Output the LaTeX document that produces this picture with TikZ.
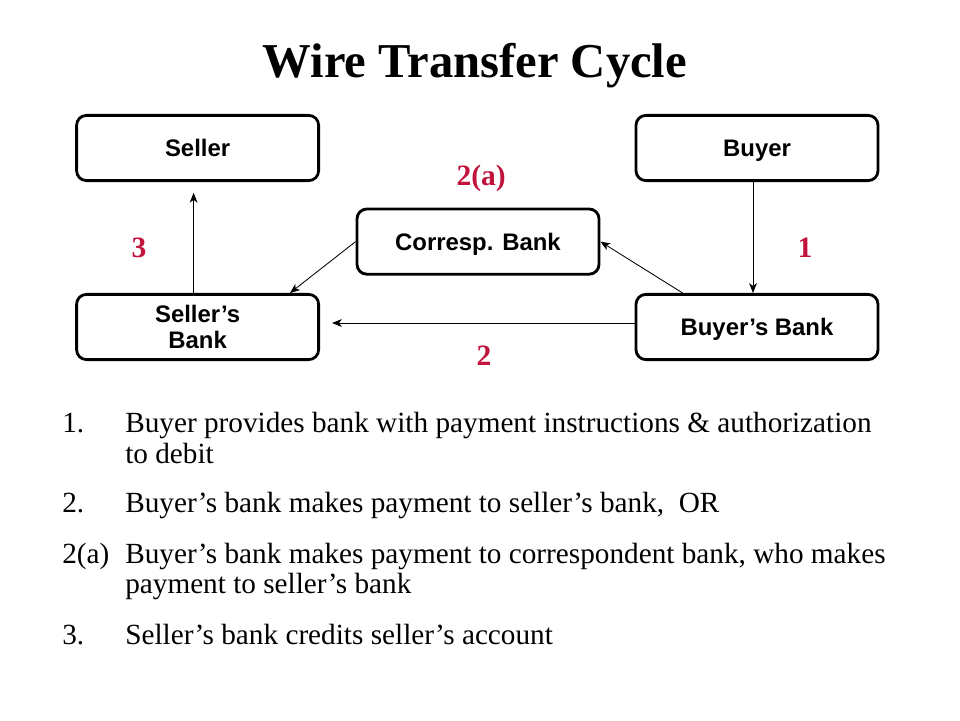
\documentclass[tikz,border=0pt]{standalone}
\usepackage{fontspec}
\setmainfont{Liberation Serif}
\setsansfont{Liberation Sans}
\usepackage{tikz}
\usetikzlibrary{arrows.meta}

\definecolor{labelred}{RGB}{192,20,60}

\tikzset{
  party/.style={draw, line width=2pt, rounded corners=7pt,
    minimum width=6.05cm, minimum height=1.63cm, align=center,
    font=\sffamily\bfseries\fontsize{17}{19}\selectfont},
  oneline/.style={text height=14pt, text depth=1.6pt},
  flow/.style={-{Stealth[length=7pt,width=5.5pt,inset=2pt]}, line width=0.6pt},
  steplabel/.style={text=labelred, font=\bfseries\fontsize{21}{24}\selectfont},
  item/.style={anchor=base west, inner sep=0pt, font=\fontsize{20.8}{23}\selectfont}
}

\begin{document}
\begin{tikzpicture}
  \useasboundingbox (0,0) rectangle (24,18);

  \node[anchor=base, font=\bfseries\fontsize{34.6}{40}\selectfont] (title) at (11.875,16.05) {Wire Transfer Cycle};

  % parties and banks
  \node[party,oneline] (seller) at (4.94,14.3) {Seller};
  \node[party,oneline] (buyer) at (18.925,14.3) {Buyer};
  \node[party,oneline] (corresp) at (11.95,11.96) {Corresp. Bank};
  \node[party] (sellersbank) at (4.94,9.825) {Seller’s\\Bank};
  \node[party,oneline] (buyersbank) at (18.925,9.825) {Buyer’s Bank};

  % payment flow
  \draw[flow] ([xshift=-0.1cm]buyer.south) -- ([xshift=-0.1cm]buyersbank.north);
  \draw[flow, shorten >=0.3cm] ([yshift=0.1cm]buyersbank.west) -- ([yshift=0.1cm]sellersbank.east);
  \draw[flow] ([xshift=1.2cm]buyersbank.north west) -- (corresp.east);
  \draw[flow] (corresp.west) -- ([xshift=-0.75cm]sellersbank.north east);
  \draw[flow, shorten >=0.27cm] ([xshift=-0.1cm]sellersbank.north) -- ([xshift=-0.1cm]seller.south);

  \node[steplabel] (l1) at (20.125,11.8) {1};
  \node[steplabel] (l2) at (12.1,9.1) {2};
  \node[steplabel] (l2a) at (12.03,13.55) {2(a)};
  \node[steplabel] (l3) at (3.475,11.8) {3};

  % numbered steps
  \foreach \n/\y [count=\i] in {1./7.2, 2./5.2, 2(a)/3.925, 3./1.9}
    \node[item] (num\i) at (1.55,\y) {\n};

  \foreach \y/\t [count=\i] in {
      7.2/{Buyer provides bank with payment instructions \& authorization},
      6.425/{to debit},
      5.2/{Buyer’s bank makes payment to seller’s bank,\ \ OR},
      3.925/{Buyer’s bank makes payment to correspondent bank, who makes},
      3.175/{payment to seller’s bank},
      1.9/{Seller’s bank credits seller’s account}}
    \node[item] (line\i) at (3.125,\y) {\t};
\end{tikzpicture}
\end{document}
